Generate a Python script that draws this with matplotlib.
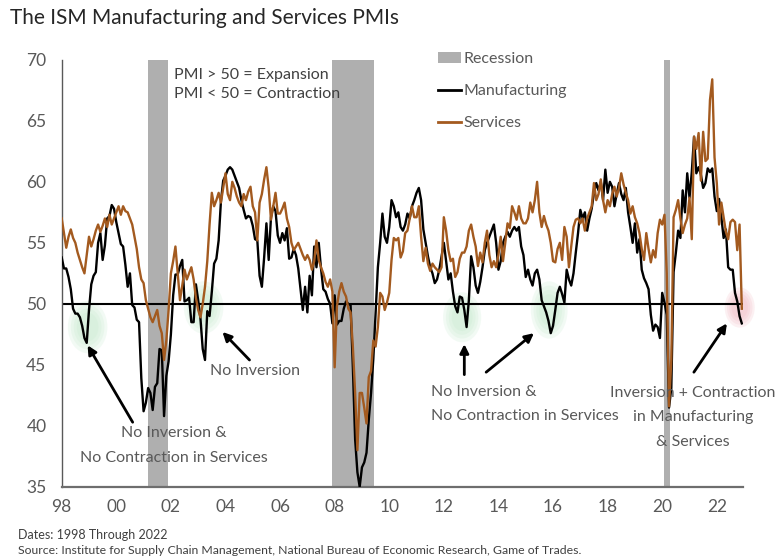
import matplotlib
matplotlib.use('Agg')
import matplotlib.pyplot as plt
from matplotlib.patches import Ellipse, Patch
from matplotlib.lines import Line2D

# monthly PMI readings, Jan 1998 .. Dec 2022 (one row per year)
manufacturing = [
    53.8, 52.9, 52.9, 52.2, 51.2, 49.6, 49.2, 49.2, 48.9, 48.2, 47.2, 46.8,  # 1998
    49.5, 51.6, 52.3, 52.6, 55.0, 55.8, 53.6, 54.8, 57.0, 57.2, 58.1, 57.8,  # 1999
    56.7, 55.8, 54.9, 54.7, 53.2, 51.4, 52.5, 49.9, 49.7, 48.7, 48.5, 43.9,  # 2000
    41.2, 41.9, 43.1, 42.7, 41.3, 43.2, 43.5, 46.3, 46.2, 40.8, 44.1, 45.3,  # 2001
    47.5, 50.7, 52.4, 52.4, 53.1, 53.6, 50.2, 50.3, 50.5, 48.5, 48.5, 51.6,  # 2002
    50.3, 48.8, 46.3, 45.4, 49.4, 49.0, 51.0, 53.3, 53.7, 55.2, 58.4, 60.1,  # 2003
    60.5, 61.0, 61.2, 61.0, 60.5, 60.0, 59.5, 58.5, 57.7, 57.0, 57.2, 57.1,  # 2004
    56.4, 55.3, 55.2, 52.3, 51.4, 53.8, 56.6, 53.6, 57.1, 58.0, 57.6, 55.6,  # 2005
    55.0, 55.8, 55.2, 56.2, 53.7, 53.8, 54.5, 54.0, 52.9, 51.2, 49.5, 51.4,  # 2006
    49.3, 52.3, 50.7, 54.7, 53.0, 55.0, 52.9, 51.2, 51.0, 50.4, 50.0, 48.4,  # 2007
    50.7, 48.3, 48.6, 48.6, 49.6, 50.2, 50.0, 49.9, 44.8, 38.9, 36.2, 35.0,  # 2008
    36.6, 37.0, 37.8, 40.5, 42.7, 45.5, 49.3, 53.0, 55.0, 57.4, 55.5, 55.0,  # 2009
    56.3, 58.5, 58.0, 57.1, 57.5, 56.3, 56.0, 56.5, 57.4, 57.0, 58.0, 58.5,  # 2010
    59.1, 59.5, 58.5, 56.1, 55.0, 53.9, 53.0, 52.5, 51.7, 52.0, 52.8, 53.9,  # 2011
    55.0, 53.5, 52.0, 52.5, 51.0, 49.8, 49.3, 50.6, 50.5, 49.5, 48.1, 50.3,  # 2012
    53.9, 53.0, 51.5, 50.9, 51.8, 53.0, 54.4, 55.0, 55.5, 56.0, 56.5, 55.0,  # 2013
    52.8, 53.5, 55.0, 55.5, 55.9, 55.5, 56.0, 56.3, 56.0, 56.3, 54.7, 54.0,  # 2014
    52.2, 52.8, 52.0, 51.5, 52.5, 52.8, 52.0, 50.3, 49.8, 49.3, 48.6, 47.6,  # 2015
    48.2, 49.5, 50.9, 51.4, 50.8, 50.1, 52.8, 52.0, 51.5, 52.5, 54.2, 55.8,  # 2016
    57.7, 57.0, 57.5, 56.0, 57.0, 57.8, 59.1, 59.9, 59.3, 60.0, 58.5, 61.0,  # 2017
    59.1, 60.0, 59.6, 58.0, 59.0, 59.9, 59.0, 58.5, 59.5, 57.5, 56.3, 55.0,  # 2018
    56.6, 54.2, 55.3, 52.8, 52.1, 51.7, 51.2, 49.1, 47.8, 48.3, 48.1, 47.2,  # 2019
    50.9, 50.1, 49.1, 41.5, 43.1, 52.6, 54.2, 56.0, 55.4, 59.3, 57.5, 60.7,  # 2020
    58.7, 60.8, 63.7, 60.7, 61.2, 60.6, 59.5, 59.9, 61.1, 60.8, 61.1, 58.8,  # 2021
    57.6, 58.6, 57.1, 55.4, 56.1, 53.0, 52.8, 52.8, 50.9, 50.2, 49.0, 48.4,  # 2022
]

services = [
    57.0, 55.8, 54.6, 55.5, 56.1, 55.4, 55.0, 54.2, 53.6, 53.0, 52.5, 54.0,  # 1998
    55.5, 54.7, 55.3, 56.0, 56.5, 55.9, 56.4, 57.0, 56.3, 57.3, 56.5, 57.0,  # 1999
    57.5, 58.0, 57.3, 58.0, 57.6, 57.5, 57.0, 56.5, 55.5, 54.5, 53.0, 52.0,  # 2000
    51.7, 50.3, 49.6, 48.9, 48.5, 49.0, 49.5, 48.2, 47.6, 45.4, 47.0, 49.5,  # 2001
    52.5, 53.5, 54.7, 52.5, 50.3, 51.5, 52.8, 52.0, 52.5, 53.0, 52.0, 50.5,  # 2002
    49.5, 48.9, 50.0, 51.4, 53.5, 56.5, 59.1, 58.0, 58.5, 59.1, 58.3, 59.5,  # 2003
    60.7, 59.0, 58.5, 60.0, 59.5, 58.8, 58.3, 58.0, 59.0, 58.5, 59.2, 59.6,  # 2004
    58.0, 57.5, 55.2, 58.3, 59.0, 60.2, 61.2, 59.5, 56.9, 58.0, 59.1, 57.4,  # 2005
    57.4, 57.8, 58.3, 57.0, 56.3, 55.0, 54.4, 54.7, 55.0, 54.5, 54.0, 53.6,  # 2006
    54.0, 53.6, 52.8, 53.5, 55.2, 53.6, 53.0, 52.5, 51.8, 51.4, 52.0, 51.0,  # 2007
    44.8, 49.8, 51.0, 51.7, 51.0, 50.6, 49.6, 49.3, 46.5, 42.7, 38.0, 42.7,  # 2008
    42.7, 41.5, 40.2, 44.0, 44.5, 47.0, 46.5, 48.1, 50.9, 50.6, 49.5, 50.1,  # 2009
    50.9, 53.6, 55.4, 55.2, 55.4, 53.8, 54.3, 55.8, 56.0, 57.0, 58.0, 57.1,  # 2010
    57.1, 58.0, 55.5, 53.5, 54.6, 53.3, 52.7, 53.3, 53.0, 52.8, 52.6, 53.0,  # 2011
    57.1, 56.0, 54.4, 53.5, 53.7, 52.2, 52.6, 53.7, 54.2, 54.2, 54.7, 56.0,  # 2012
    56.5, 55.5, 54.7, 53.1, 54.2, 53.4, 55.0, 56.0, 54.0, 53.0, 53.5, 53.0,  # 2013
    54.0, 55.5, 53.5, 55.0, 56.6, 56.2, 58.0, 57.5, 56.9, 58.0, 57.0, 56.6,  # 2014
    56.6, 57.0, 58.3, 57.5, 58.5, 60.0, 57.5, 56.3, 57.2, 56.5, 56.0, 55.0,  # 2015
    53.5, 53.4, 54.5, 55.0, 53.6, 56.3, 55.5, 53.0, 54.7, 56.3, 56.9, 57.0,  # 2016
    56.6, 57.0, 56.0, 57.0, 57.5, 58.0, 59.9, 58.5, 59.0, 60.2, 58.5, 57.5,  # 2017
    58.5, 58.0, 59.0, 59.6, 58.8, 59.5, 60.7, 59.8, 59.1, 58.5, 57.4, 58.0,  # 2018
    57.1, 56.6, 55.8, 54.5, 53.6, 55.8, 54.5, 53.4, 54.4, 53.8, 55.8, 56.9,  # 2019
    56.5, 57.3, 52.5, 41.6, 45.4, 57.1, 57.7, 58.5, 57.0, 55.8, 56.5, 57.0,  # 2020
    58.7, 55.3, 63.7, 62.7, 64.0, 60.1, 64.1, 61.7, 61.9, 66.7, 68.4, 62.0,  # 2021
    59.9, 56.5, 58.3, 57.1, 55.9, 55.3, 56.7, 56.9, 56.7, 54.4, 56.5, 49.6,  # 2022
]

start_year = 1998
recession_start = [2001.17, 2007.92, 2020.05]
recession_end = [2001.88, 2009.45, 2020.28]

tick_years = list(range(1998, 2023, 2))
tick_labels = ['98', '00', '02', '04', '06', '08', '10', '12', '14', '16', '18', '20', '22']

# (year, value, width in years, height in points) of the highlight blobs
green_spots = [(1998.95, 48.1, 1.45, 4.3), (2003.2, 49.7, 1.45, 4.3),
               (2012.67, 48.9, 1.4, 4.1), (2015.86, 49.5, 1.35, 4.7)]
red_spots = [(2022.84, 49.7, 1.1, 3.3)]

dates = [start_year + i / 12 for i in range(len(manufacturing))]

plt.rcParams['font.family'] = ['Lato', 'DejaVu Sans']
grey_txt = '#595959'
orange = '#A35A1F'
band = '#AFAFAF'

fig = plt.figure(figsize=(7.81, 5.59), dpi=100)
ax = fig.add_axes([0.079, 0.129, 0.872, 0.764])

for s, e in zip(recession_start, recession_end):
    ax.axvspan(s, e, color=band, lw=0, zorder=1)


def blob(x, y, w, h, color):
    for k in [1.0, 0.85, 0.7, 0.55]:
        ax.add_patch(Ellipse((x, y), w * k, h * k, facecolor=color, edgecolor='none',
                             alpha=0.19, zorder=1.5, clip_on=False))


for x, y, w, h in green_spots:
    blob(x, y, w, h, '#bfe8c9')
for x, y, w, h in red_spots:
    blob(x, y, w, h, '#f0b4bd')

ax.axhline(50, color='black', lw=1.5, zorder=2)
ax.plot(dates, manufacturing, color='black', lw=1.7, zorder=3)
ax.plot(dates, services, color=orange, lw=1.7, zorder=3.5)

ax.set_xlim(1998, 2022.95)
ax.set_ylim(35, 70)
ax.set_yticks(range(35, 71, 5))
ax.set_xticks(tick_years)
ax.set_xticklabels(tick_labels)
ax.tick_params(axis='both', length=0, labelsize=12.5, labelcolor=grey_txt)
ax.tick_params(axis='y', pad=11)
ax.tick_params(axis='x', pad=9)
for side in ['top', 'right']:
    ax.spines[side].set_visible(False)
ax.spines['left'].set_color('#595959')
ax.spines['left'].set_linewidth(1.0)
ax.spines['bottom'].set_color('#6e6e6e')
ax.spines['bottom'].set_linewidth(1.6)

handles = [Patch(facecolor=band, edgecolor='none'),
           Line2D([], [], color='black', lw=2),
           Line2D([], [], color=orange, lw=2)]
leg = ax.legend(handles, ['Recession', 'Manufacturing', 'Services'], loc='upper left',
                bbox_to_anchor=(0.553, 1.018), frameon=False, fontsize=11.5,
                labelspacing=1.12, handlelength=1.4, handletextpad=0.15,
                borderpad=0, borderaxespad=0)
for t in leg.get_texts():
    t.set_color(grey_txt)

ax.text(2002.13, 68.0, 'PMI > 50 = Expansion\nPMI < 50 = Contraction', fontsize=11.5,
        color='#404040', ha='left', va='center', linespacing=1.45)

arrow = dict(arrowstyle='-|>', color='black', lw=2, mutation_scale=13, shrinkA=0, shrinkB=0)
ax.annotate('', xy=(1998.95, 46.6), xytext=(2000.6, 40.3), arrowprops=arrow, zorder=4)
ax.text(2002.1, 38.4, 'No Inversion &\nNo Contraction in Services', fontsize=11.5,
        color=grey_txt, ha='center', va='center', multialignment='center', linespacing=1.95)

ax.annotate('', xy=(2003.89, 47.7), xytext=(2004.88, 45.4), arrowprops=arrow, zorder=4)
ax.text(2005.1, 44.5, 'No Inversion', fontsize=11.5, color=grey_txt, ha='center', va='center')

ax.annotate('', xy=(2012.75, 46.7), xytext=(2012.75, 44.2), arrowprops=arrow, zorder=4)
ax.annotate('', xy=(2015.3, 47.6), xytext=(2013.55, 44.4), arrowprops=arrow, zorder=4)
ax.text(2011.54, 41.8, 'No Inversion &\nNo Contraction in Services', fontsize=11.5,
        color=grey_txt, ha='left', va='center', multialignment='left', linespacing=1.95)

ax.annotate('', xy=(2022.37, 48.4), xytext=(2021.16, 44.4), arrowprops=arrow, zorder=4)
ax.text(2021.12, 40.7, 'Inversion + Contraction\nin Manufacturing\n& Services', fontsize=11.5,
        color=grey_txt, ha='center', va='center', multialignment='center', linespacing=1.95,
        zorder=5)

fig.text(0.013, 0.968, 'The ISM Manufacturing and Services PMIs', fontsize=15,
         color='#262626', ha='left', va='center')
fig.text(0.023, 0.043, 'Dates: 1998 Through 2022', fontsize=9, color='#404040',
         ha='left', va='center')
fig.text(0.023, 0.0145, 'Source: Institute for Supply Chain Management, National Bureau of '
         'Economic Research, Game of Trades.', fontsize=8.8, color='#404040',
         ha='left', va='center')

fig.savefig('out.png', dpi=100)
